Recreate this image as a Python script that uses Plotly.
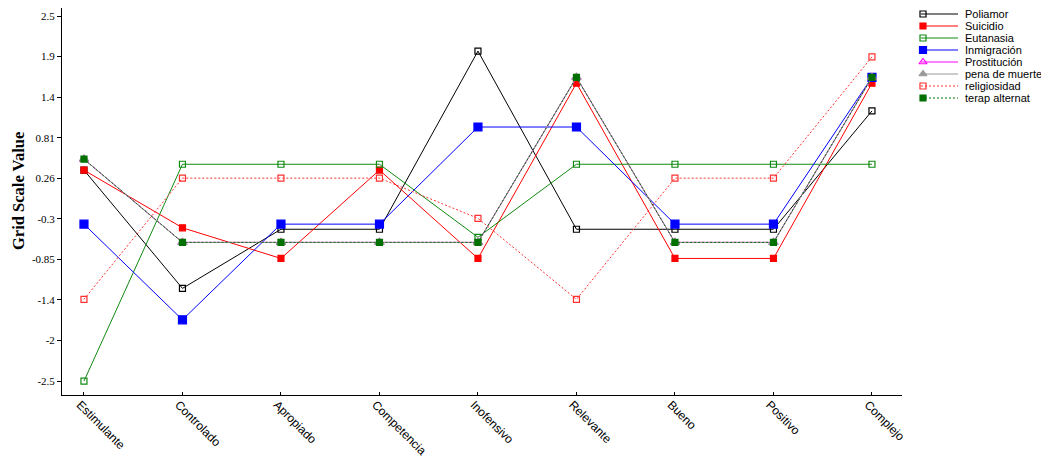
import plotly.graph_objects as go
import numpy as np

# the page shows the figure with an 8px body margin; map reference pixels accordingly
OFF = 8
WIN_W, WIN_H = 1049, 457
W, H = WIN_W - OFF, WIN_H - OFF

categories = ["Estimulante", "Controlado", "Apropiado", "Competencia", "Inofensivo",
              "Relevante", "Bueno", "Positivo", "Complejo"]

poliamor      = [0.39, -1.23, -0.42, -0.42, 2.02, -0.42, -0.42, -0.42, 1.20]
suicidio      = [0.39, -0.40, -0.82, 0.39, -0.82, 1.58, -0.82, -0.82, 1.58]
eutanasia     = [-2.50, 0.47, 0.47, 0.47, -0.53, 0.47, 0.47, 0.47, 0.47]
inmigracion   = [-0.35, -1.66, -0.35, -0.35, 0.98, 0.98, -0.35, -0.35, 1.66]
prostitucion  = [0.54, -0.60, -0.60, -0.60, -0.60, 1.66, -0.60, -0.60, 1.66]
pena_muerte   = [0.54, -0.60, -0.60, -0.60, -0.60, 1.66, -0.60, -0.60, 1.66]
religiosidad  = [-1.38, 0.28, 0.28, 0.28, -0.27, -1.38, 0.28, 0.28, 1.94]
terap_altern  = [0.54, -0.60, -0.60, -0.60, -0.60, 1.66, -0.60, -0.60, 1.66]

series_names = ["Poliamor", "Suicidio", "Eutanasia", "Inmigración", "Prostitución",
                "pena de muerte", "religiosidad", "terap alternat"]
series_values = [poliamor, suicidio, eutanasia, inmigracion, prostitucion,
                 pena_muerte, religiosidad, terap_altern]

y_tickvals = list(np.linspace(2.5, -2.5, 10))
y_ticktext = ["2.5", "1.9", "1.4", "0.81", "0.26", "-0.3", "-0.85", "-1.4", "-2", "-2.5"]

styles = [
    dict(color="#000000", dash="solid", symbol="square-open", size=6),
    dict(color="#ff0000", dash="solid", symbol="square", size=6),
    dict(color="#108a10", dash="solid", symbol="square-open", size=6),
    dict(color="#0000ff", dash="solid", symbol="square", size=8),
    dict(color="#ff00ff", dash="solid", symbol="triangle-up-open", size=8),
    dict(color="#999999", dash="solid", symbol="triangle-up", size=8),
    dict(color="#ff3030", dash="2px,2px", symbol="square-open", size=6),
    dict(color="#007000", dash="2px,2px", symbol="square", size=6),
]


def px(x):
    return (x - OFF) / W


def py(y):
    return 1 - (y - OFF) / H


fig = go.Figure()
for name, vals, st in zip(series_names, series_values, styles):
    fig.add_trace(go.Scatter(
        x=categories, y=vals, mode="lines+markers", name=name,
        line=dict(color=st["color"], width=1, dash=st["dash"]),
        marker=dict(symbol=st["symbol"], size=st["size"], color=st["color"],
                    line=dict(color=st["color"], width=1.2)),
        showlegend=False, xaxis="x", yaxis="y"))

# custom legend on an overlay axis expressed in reference-window pixels
leg_rows = [14, 26, 38, 50, 62, 74, 86, 98]
for name, st, yy in zip(series_names, styles, leg_rows):
    fig.add_shape(type="line", xref="x2", yref="y2", x0=921, x1=958, y0=yy, y1=yy,
                  line=dict(color=st["color"], width=1, dash=st["dash"]))
    fig.add_trace(go.Scatter(
        x=[923], y=[yy], mode="markers", xaxis="x2", yaxis="y2", showlegend=False,
        cliponaxis=False, hoverinfo="skip",
        marker=dict(symbol=st["symbol"], size=st["size"] if st["size"] < 8 else 7,
                    color=st["color"], line=dict(color=st["color"], width=1.2))))
    fig.add_annotation(xref="x2", yref="y2", x=963, y=yy, text=name, showarrow=False,
                       xanchor="left", yanchor="middle",
                       font=dict(family="Liberation Sans, Arial", size=11, color="#000"))

fig.add_annotation(xref="paper", yref="paper", x=px(18), y=py(191),
                   xanchor="center", yanchor="middle",
                   text="<b>Grid Scale Value</b>", textangle=-90, showarrow=False,
                   font=dict(family="Liberation Serif, Times New Roman", size=16.5, color="#000"))

fig.update_layout(
    width=W, height=H,
    margin=dict(l=0, r=0, t=0, b=0),
    paper_bgcolor="white", plot_bgcolor="rgba(0,0,0,0)",
    showlegend=False,
    xaxis=dict(domain=[px(62), px(902)], type="category", range=[-0.223, 8.305],
               showline=True, linecolor="#000", linewidth=1, showgrid=False, zeroline=False,
               ticks="inside", ticklen=3, tickcolor="#000", tickangle=45,
               ticklabelstandoff=-3, ticklabelshift=-4,
               tickfont=dict(family="Liberation Sans, Arial", size=12, color="#000"),
               automargin=False, anchor="y"),
    yaxis=dict(domain=[py(395), py(8)], range=[-2.69, 2.61],
               tickvals=y_tickvals, ticktext=y_ticktext,
               showline=True, linecolor="#000", linewidth=1, showgrid=False, zeroline=False,
               ticks="outside", ticklen=4, tickcolor="#000",
               tickfont=dict(family="Liberation Serif, Times New Roman", size=11, color="#000"),
               automargin=False, anchor="x"),
    xaxis2=dict(domain=[0, 1], range=[OFF, WIN_W], visible=False, anchor="y2", fixedrange=True),
    yaxis2=dict(domain=[0, 1], range=[WIN_H, OFF], visible=False, anchor="x2", fixedrange=True),
)

fig.write_html("out.html")
